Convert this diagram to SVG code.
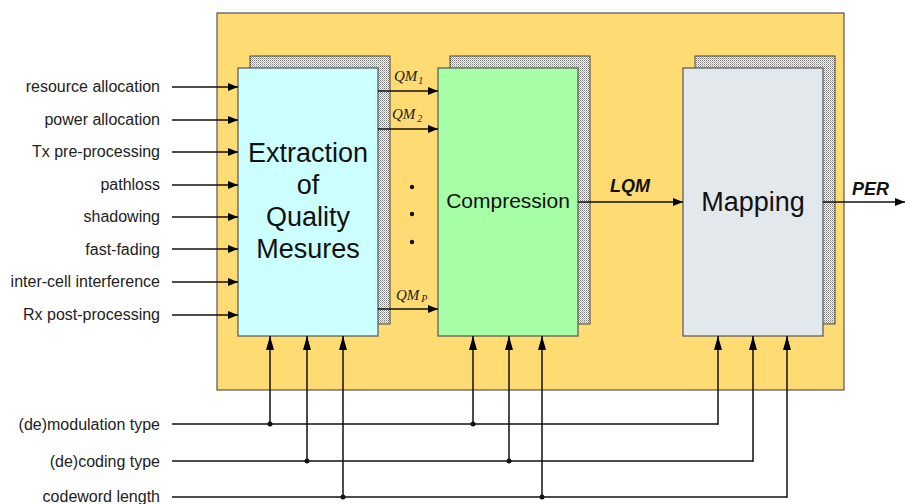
<svg xmlns="http://www.w3.org/2000/svg" width="905" height="504" viewBox="0 0 905 504">
<defs>
<pattern id="dots" width="2" height="2" patternUnits="userSpaceOnUse">
<rect width="2" height="2" fill="#ffffff"/>
<rect width="1" height="1" fill="#777"/>
<rect x="1" y="1" width="1" height="1" fill="#aaa"/>
</pattern>
<marker id="ah" viewBox="0 0 10 8" refX="10" refY="4" markerWidth="10" markerHeight="8" markerUnits="userSpaceOnUse" orient="auto">
<path d="M0,0 L10,4 L0,8 Z" fill="#000"/>
</marker>
<marker id="ahs" viewBox="0 0 14 8" refX="14" refY="4" markerWidth="14" markerHeight="8" markerUnits="userSpaceOnUse" orient="auto">
<path d="M0,0 L14,4 L0,8 Z" fill="#000"/>
</marker>
</defs>
<style>
.lbl{font-family:"Liberation Sans",Arial,sans-serif;font-size:16px;fill:#222;text-anchor:end}
.big{font-family:"Liberation Sans",Arial,sans-serif;fill:#111;text-anchor:middle}
.ln{stroke:#111;stroke-width:1.5;fill:none}
.arr{stroke:#111;stroke-width:1.5;fill:none;marker-end:url(#ah)}
.varr{stroke:#111;stroke-width:1.5;fill:none;marker-end:url(#ahs)}
.box{stroke:#555;stroke-width:1.2}
.shadow{fill:url(#dots);stroke:#444;stroke-width:1}
.qm{font-family:"Liberation Serif","Times New Roman",serif;font-style:italic;font-size:15px;fill:#222}
.sub{font-family:"Liberation Serif","Times New Roman",serif;font-style:italic;font-size:10px;fill:#222}
.bi{font-family:"Liberation Sans",Arial,sans-serif;font-weight:bold;font-style:italic;font-size:18px;fill:#111}
</style>
<g id="container">
<rect x="217" y="13" width="627" height="377" fill="#FFDB73" stroke="#555" stroke-width="1.2"/>
</g>
<g id="extraction">
<rect class="shadow" x="250" y="56" width="140" height="268"/>
<rect class="box" x="238" y="68" width="140" height="268" fill="#CCFFFF"/>
<text class="big" font-size="27" x="308" y="162">Extraction</text>
<text class="big" font-size="27" x="308" y="194">of</text>
<text class="big" font-size="27" x="308" y="226">Quality</text>
<text class="big" font-size="27" x="308" y="258">Mesures</text>
</g>
<g id="compression">
<rect class="shadow" x="450" y="56" width="140" height="268"/>
<rect class="box" x="438" y="68" width="140" height="268" fill="#A6FFA6"/>
<text class="big" font-size="21" x="508" y="208">Compression</text>
</g>
<g id="mapping">
<rect class="shadow" x="695" y="56" width="140" height="268"/>
<rect class="box" x="683" y="68" width="140" height="268" fill="#E3E8EC"/>
<text class="big" font-size="27" x="753" y="211">Mapping</text>
</g>
<g id="inputs">
<text class="lbl" x="160" y="92">resource allocation</text>
<text class="lbl" x="160" y="125">power allocation</text>
<text class="lbl" x="160" y="157">Tx pre-processing</text>
<text class="lbl" x="160" y="190">pathloss</text>
<text class="lbl" x="160" y="222">shadowing</text>
<text class="lbl" x="160" y="255">fast-fading</text>
<text class="lbl" x="160" y="287">inter-cell interference</text>
<text class="lbl" x="160" y="320">Rx post-processing</text>
<text class="lbl" x="160" y="430">(de)modulation type</text>
<text class="lbl" x="160" y="467">(de)coding type</text>
<text class="lbl" x="160" y="502">codeword length</text>
</g>
<g id="labels">
<text class="qm" x="394" y="81">QM<tspan class="sub" dx="1" dy="3">1</tspan></text>
<text class="qm" x="392" y="119">QM<tspan class="sub" dx="2" dy="3">2</tspan></text>
<text class="qm" x="396" y="300">QM<tspan class="sub" dx="2" dy="2">P</tspan></text>
<circle cx="412" cy="187" r="2.2" fill="#111"/>
<circle cx="412" cy="214" r="2.2" fill="#111"/>
<circle cx="412" cy="242" r="2.2" fill="#111"/>
<text class="bi" x="610" y="192">LQM</text>
<text class="bi" x="852" y="195">PER</text>
</g>
<g id="connectors">
<line class="arr" x1="172" y1="87" x2="238" y2="87"/>
<line class="arr" x1="172" y1="120" x2="238" y2="120"/>
<line class="arr" x1="172" y1="152" x2="238" y2="152"/>
<line class="arr" x1="172" y1="185" x2="238" y2="185"/>
<line class="arr" x1="172" y1="217" x2="238" y2="217"/>
<line class="arr" x1="172" y1="249" x2="238" y2="249"/>
<line class="arr" x1="172" y1="282" x2="238" y2="282"/>
<line class="arr" x1="172" y1="315" x2="238" y2="315"/>
<line class="arr" x1="378" y1="91" x2="438" y2="91"/>
<line class="arr" x1="378" y1="129" x2="438" y2="129"/>
<line class="arr" x1="378" y1="309" x2="438" y2="309"/>
<line class="arr" x1="578" y1="202" x2="683" y2="202"/>
<line class="arr" x1="823" y1="202" x2="905" y2="202"/>
<polyline class="ln" points="172,424 718,424"/>
<polyline class="ln" points="172,461 753,461"/>
<polyline class="ln" points="172,497 787,497"/>
<line class="varr" x1="270" y1="424" x2="270" y2="336"/>
<line class="varr" x1="307" y1="461" x2="307" y2="336"/>
<line class="varr" x1="343" y1="497" x2="343" y2="336"/>
<line class="varr" x1="473" y1="424" x2="473" y2="336"/>
<line class="varr" x1="509" y1="461" x2="509" y2="336"/>
<line class="varr" x1="542" y1="497" x2="542" y2="336"/>
<line class="varr" x1="718" y1="424.75" x2="718" y2="336"/>
<line class="varr" x1="753" y1="461.75" x2="753" y2="336"/>
<line class="varr" x1="787" y1="497.75" x2="787" y2="336"/>
<circle cx="270" cy="424" r="2.5" fill="#111"/>
<circle cx="473" cy="424" r="2.5" fill="#111"/>
<circle cx="307" cy="461" r="2.5" fill="#111"/>
<circle cx="509" cy="461" r="2.5" fill="#111"/>
<circle cx="343" cy="497" r="2.5" fill="#111"/>
<circle cx="542" cy="497" r="2.5" fill="#111"/>
</g>
</svg>
